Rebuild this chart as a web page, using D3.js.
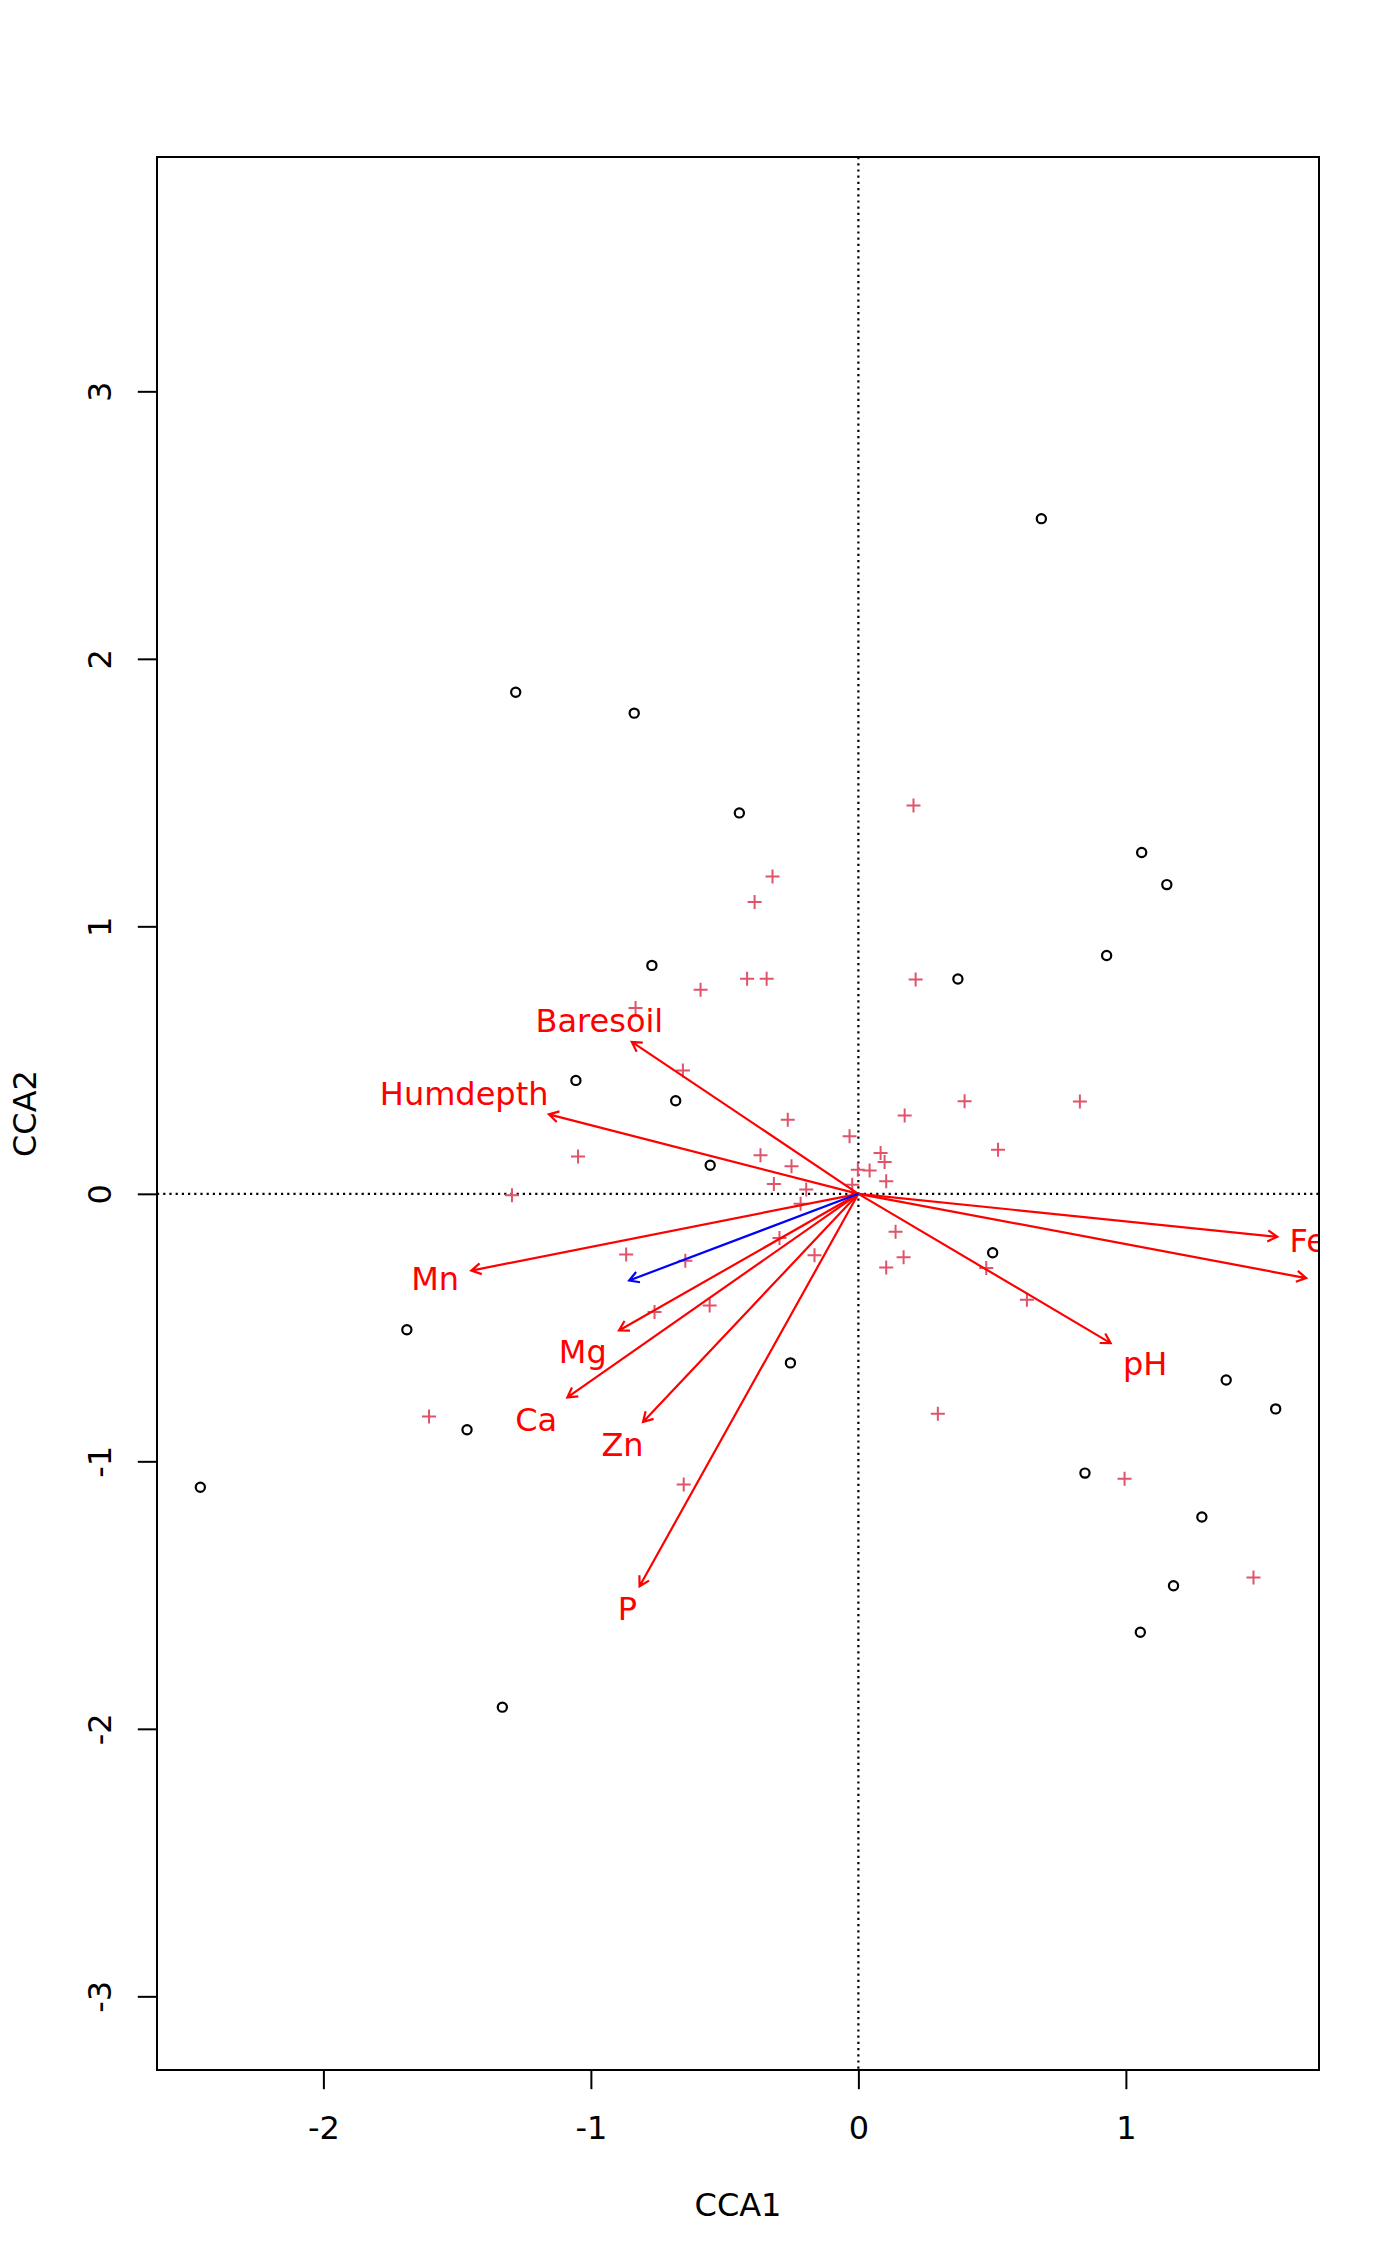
<!DOCTYPE html>
<html lang="en">
<head>
<meta charset="UTF-8">
<title>CCA biplot</title>
<script src="https://d3js.org/d3.v7.min.js"></script>
<style>
  body { margin: 0; background: #fff; }
  text { font-family: "DejaVu Sans", sans-serif; }
</style>
</head>
<body>
<script>
// site scores (CCA1, CCA2)
const siteX = [-1.056, -0.683, -0.554, 0.502, -0.254, 1.375, 1.560, 0.847, 1.284, -1.688, -1.463, -1.281,
               -0.838, -0.445, -0.772, 0.372, 0.684, 1.059, 1.153, 0.928, 1.178, 1.054, -2.460, -1.331];
const siteY = [0.424, 0.348, 0.107, -0.220, -0.632, -0.696, -0.804, -1.044, -1.208, -0.508, -0.882, 1.875,
               1.797, 1.424, 0.854, 0.803, 2.524, 1.276, 1.156, 0.891, -1.465, -1.639, -1.097, -1.919];

// species scores
const specX = [-0.833, -0.656, -0.264, -0.033, 0.173, 0.397, 0.522, -1.048, -0.366, -0.250, 0.083, 0.098,
               -0.002, 0.042, 0.104, -0.316, -0.195, -0.023, -1.295, -0.216, -0.295, 0.139, -0.868, -0.647,
               -0.164, 0.169, 0.104, 0.478, -0.762, -0.556, 0.297, -0.653, 0.206, -0.321, -0.388, -0.590,
               -0.416, -0.343, 0.214, 0.828, 0.630, 0.995, 1.477, -1.605];
const specY = [0.695, 0.461, 0.277, 0.215, 0.293, 0.346, 0.165, 0.140, 0.144, 0.103, 0.153, 0.119,
               0.090, 0.087, 0.047, 0.037, 0.016, 0.034, -0.005, -0.037, -0.165, -0.142, -0.227, -0.250,
               -0.230, -0.237, -0.275, -0.277, -0.442, -0.417, -0.822, -1.087, 1.452, 1.186, 1.091, 0.763,
               0.804, 0.804, 0.801, 0.345, -0.396, -1.065, -1.434, -0.832];

// biplot arrows of the constraining variables
const envNames = ["Baresoil", "Humdepth", "Mn", "Mg", "Ca", "Zn", "P", "pH", "Fe", "Al"];
const envX = [-0.847, -1.157, -1.447, -0.895, -1.088, -0.805, -0.818, 0.943, 1.566, 1.674];
const envY = [0.568, 0.297, -0.287, -0.511, -0.761, -0.853, -1.467, -0.558, -0.161, -0.315];

// extra fitted vector (blue, no label)
const fitX = [-0.857];
const fitY = [-0.324];

const xTicks = [-2, -1, 0, 1];
const yTicks = [-3, -2, -1, 0, 1, 2, 3];
const xTitle = "CCA1", yTitle = "CCA2";

// layout
const W = 1400, H = 2266;
const box = {left: 157, right: 1319, top: 157, bottom: 2070};
const unit = 267.5; // px per unit, equal aspect
const xMin = -2.622, yMax = 3.876;

const x = d3.scaleLinear()
    .domain([xMin, xMin + (box.right - box.left) / unit])
    .range([box.left, box.right]);
const y = d3.scaleLinear()
    .domain([yMax - (box.bottom - box.top) / unit, yMax])
    .range([box.bottom, box.top]);

const svg = d3.select("body").append("svg")
    .attr("width", W)
    .attr("height", H);

svg.append("defs").append("clipPath").attr("id", "plotclip")
  .append("rect")
    .attr("x", box.left).attr("y", box.top)
    .attr("width", box.right - box.left)
    .attr("height", box.bottom - box.top);

const plot = svg.append("g").attr("clip-path", "url(#plotclip)");

// dotted origin lines
plot.append("line")
    .attr("x1", x(0)).attr("x2", x(0))
    .attr("y1", box.top).attr("y2", box.bottom)
    .attr("stroke", "#000").attr("stroke-width", 2.2).attr("stroke-dasharray", "2.2,4");
plot.append("line")
    .attr("x1", box.left).attr("x2", box.right)
    .attr("y1", y(0)).attr("y2", y(0))
    .attr("stroke", "#000").attr("stroke-width", 2.2).attr("stroke-dasharray", "2.2,4");

// sites
plot.selectAll(".site")
    .data(d3.range(siteX.length))
    .enter().append("circle")
    .attr("class", "site")
    .attr("cx", i => x(siteX[i]))
    .attr("cy", i => y(siteY[i]))
    .attr("r", 4.6)
    .attr("fill", "none")
    .attr("stroke", "#000")
    .attr("stroke-width", 2.2);

// species
const pl = 7;
plot.selectAll(".spec")
    .data(d3.range(specX.length))
    .enter().append("path")
    .attr("class", "spec")
    .attr("d", i => {
        const cx = x(specX[i]), cy = y(specY[i]);
        return `M${cx - pl},${cy}H${cx + pl}M${cx},${cy - pl}V${cy + pl}`;
    })
    .attr("stroke", "#DF536B")
    .attr("stroke-width", 2)
    .attr("fill", "none");

// arrows
function arrowPath(x1, y1) {
    const x0 = x(0), y0 = y(0);
    const a = Math.atan2(y1 - y0, x1 - x0);
    const len = 11, sp = Math.PI / 6;
    const p1 = [x1 - len * Math.cos(a - sp), y1 - len * Math.sin(a - sp)];
    const p2 = [x1 - len * Math.cos(a + sp), y1 - len * Math.sin(a + sp)];
    return `M${x0},${y0}L${x1},${y1}M${p1[0]},${p1[1]}L${x1},${y1}L${p2[0]},${p2[1]}`;
}

plot.selectAll(".env")
    .data(d3.range(envNames.length))
    .enter().append("path")
    .attr("class", "env")
    .attr("d", i => arrowPath(x(envX[i]), y(envY[i])))
    .attr("stroke", "#FF0000")
    .attr("stroke-width", 2.2)
    .attr("fill", "none");

plot.selectAll(".fit")
    .data(d3.range(fitX.length))
    .enter().append("path")
    .attr("class", "fit")
    .attr("d", i => arrowPath(x(fitX[i]), y(fitY[i])))
    .attr("stroke", "#0000FF")
    .attr("stroke-width", 2.2)
    .attr("fill", "none");

// labels placed beyond arrow tips (like vegan's ordiArrowTextXY)
const hStr = 29 / unit;
const padW = 5 / unit;
plot.selectAll(".envlab")
    .data(d3.range(envNames.length))
    .enter().append("text")
    .attr("class", "envlab")
    .attr("font-size", 32)
    .attr("fill", "#FF0000")
    .attr("text-anchor", "middle")
    .text(i => envNames[i])
    .each(function(i) {
        const w = this.getComputedTextLength() / unit;
        const tx = envX[i], ty = envY[i];
        const b = ty / tx;
        let ox = Math.sign(tx) * (w / 2 + padW + hStr / 4);
        let oy = 0.75 * hStr * Math.sign(ty);
        const move = oy / b;
        if (isFinite(move) && Math.abs(move) <= Math.abs(ox)) ox = move;
        else oy = b * ox;
        d3.select(this)
            .attr("x", x(tx + ox))
            .attr("y", y(ty + oy) + 12);
    });

// axes
const xAxis = svg.append("g")
    .attr("transform", `translate(0,${box.bottom})`)
    .call(d3.axisBottom(x).tickValues(xTicks).tickFormat(d => String(d))
        .tickSize(19.2).tickPadding(27));
xAxis.select(".domain").remove();
xAxis.selectAll("line").attr("stroke", "#000").attr("stroke-width", 2);
xAxis.selectAll("text")
    .attr("font-size", 32)
    .attr("font-family", "DejaVu Sans, sans-serif")
    .attr("fill", "#000");

const yAxis = svg.append("g")
    .attr("transform", `translate(${box.left},0)`)
    .call(d3.axisLeft(y).tickValues(yTicks).tickFormat(d => String(d)).tickSize(19.2));
yAxis.select(".domain").remove();
yAxis.selectAll("line").attr("stroke", "#000").attr("stroke-width", 2);
yAxis.selectAll("text")
    .attr("x", null).attr("dy", null)
    .attr("transform", `translate(${111 - box.left},0) rotate(-90)`)
    .attr("text-anchor", "middle")
    .attr("font-size", 32)
    .attr("font-family", "DejaVu Sans, sans-serif")
    .attr("fill", "#000");

// frame
svg.append("rect")
    .attr("x", box.left).attr("y", box.top)
    .attr("width", box.right - box.left)
    .attr("height", box.bottom - box.top)
    .attr("fill", "none")
    .attr("stroke", "#000")
    .attr("stroke-width", 2);

// axis titles
svg.append("text")
    .attr("x", (box.left + box.right) / 2)
    .attr("y", 2216)
    .attr("text-anchor", "middle")
    .attr("font-size", 32)
    .text(xTitle);

svg.append("text")
    .attr("transform", `translate(36,${(box.top + box.bottom) / 2}) rotate(-90)`)
    .attr("text-anchor", "middle")
    .attr("font-size", 32)
    .text(yTitle);
</script>
</body>
</html>
